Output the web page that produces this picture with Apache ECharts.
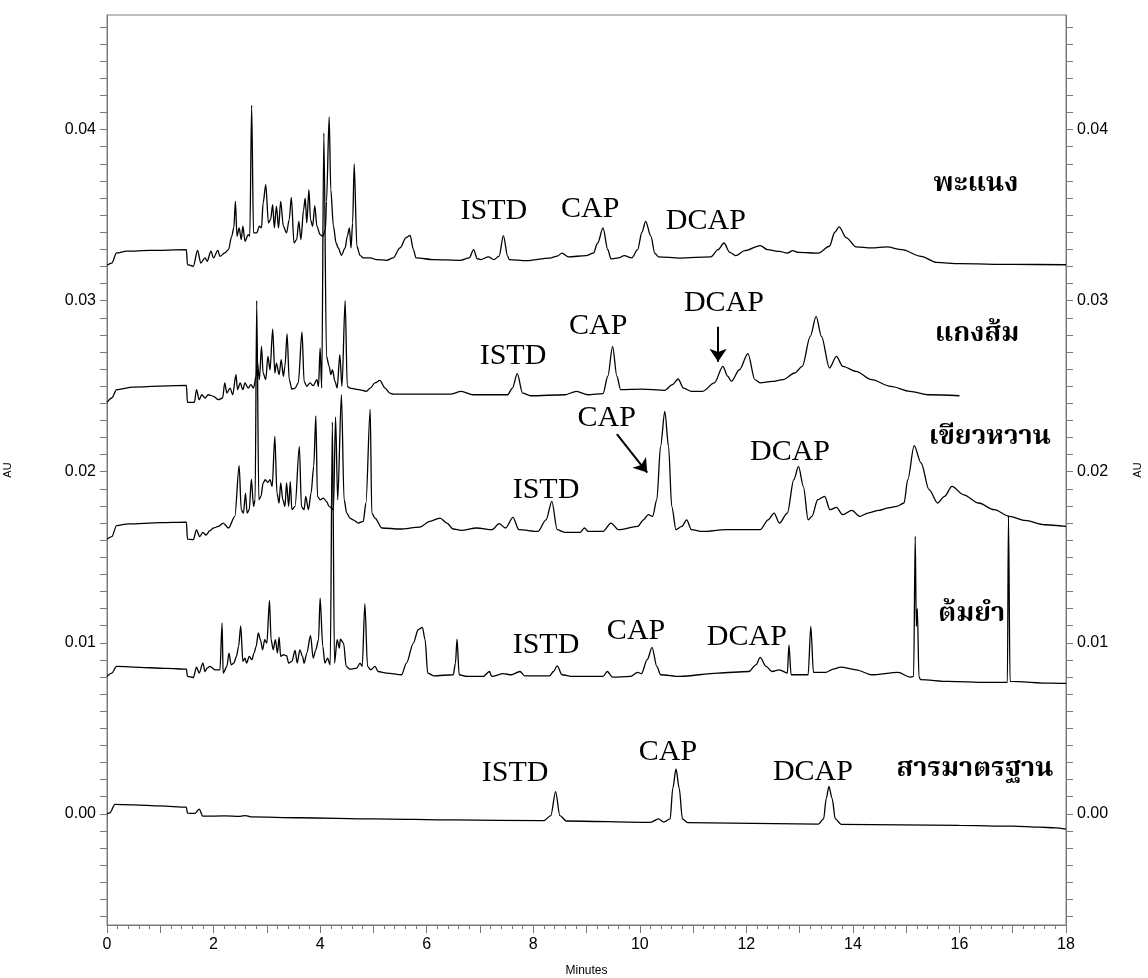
<!DOCTYPE html>
<html>
<head>
<meta charset="utf-8">
<script src="https://cdn.jsdelivr.net/npm/echarts@6/dist/echarts.min.js"></script>
<style>
  html, body { margin: 0; padding: 0; background: #ffffff; }
  #chart { width: 1148px; height: 978px; }
</style>
</head>
<body>
<div id="chart"></div>
<script>
// Chromatograms (retention time in minutes, absorbance in AU), one array per sample
const tracePhanaeng = [
  [0.00,0.03207],[0.09,0.03220],[0.18,0.03279],[0.37,0.03289],[0.81,0.03294],[1.49,0.03298],[1.51,0.03211],[1.62,0.03201],
  [1.70,0.03294],[1.76,0.03220],[1.84,0.03250],[1.88,0.03230],[1.95,0.03289],[2.00,0.03250],[2.08,0.03294],[2.12,0.03259],
  [2.21,0.03279],[2.28,0.03298],[2.34,0.03376],[2.38,0.03425],[2.41,0.03581],[2.44,0.03376],[2.48,0.03425],[2.52,0.03357],
  [2.55,0.03435],[2.59,0.03347],[2.65,0.03386],[2.68,0.03376],[2.715,0.04142],[2.75,0.03396],[2.81,0.03396],[2.86,0.03435],
  [2.90,0.03425],[2.93,0.03571],[2.98,0.03678],[3.03,0.03454],[3.07,0.03474],[3.11,0.03561],[3.14,0.03425],[3.18,0.03552],
  [3.22,0.03425],[3.26,0.03581],[3.31,0.03435],[3.37,0.03396],[3.42,0.03474],[3.46,0.03604],[3.51,0.03337],[3.56,0.03357],
  [3.60,0.03464],[3.64,0.03357],[3.69,0.03532],[3.72,0.03600],[3.75,0.03454],[3.79,0.03649],[3.82,0.03474],[3.86,0.03435],
  [3.90,0.03556],[3.94,0.03435],[4.00,0.03386],[4.05,0.03376],[4.10,0.03415],[4.12,0.03581],[4.17,0.04074],[4.20,0.03649],
  [4.25,0.03435],[4.30,0.03337],[4.34,0.03308],[4.40,0.03265],[4.47,0.03308],[4.51,0.03376],[4.55,0.03425],[4.58,0.03308],
  [4.61,0.03454],[4.64,0.03799],[4.69,0.03318],[4.75,0.03265],[4.81,0.03250],[4.94,0.03250],[5.06,0.03240],[5.25,0.03236],
  [5.37,0.03250],[5.50,0.03308],[5.61,0.03367],[5.69,0.03382],[5.75,0.03300],[5.80,0.03250],[6.13,0.03240],[6.63,0.03236],
  [6.80,0.03250],[6.88,0.03298],[6.95,0.03245],[7.01,0.03240],[7.16,0.03256],[7.26,0.03240],[7.36,0.03260],[7.44,0.03380],
  [7.52,0.03260],[7.55,0.03240],[7.87,0.03234],[8.31,0.03249],[8.45,0.03260],[8.54,0.03278],[8.66,0.03256],[8.99,0.03263],
  [9.13,0.03278],[9.21,0.03337],[9.31,0.03425],[9.40,0.03298],[9.46,0.03244],[9.60,0.03250],[9.71,0.03263],[9.85,0.03250],
  [9.96,0.03298],[10.04,0.03400],[10.11,0.03464],[10.21,0.03376],[10.28,0.03278],[10.35,0.03256],[10.75,0.03249],[11.33,0.03256],
  [11.47,0.03298],[11.58,0.03337],[11.69,0.03282],[11.80,0.03263],[11.97,0.03292],[12.26,0.03322],[12.40,0.03298],[12.62,0.03288],
  [12.77,0.03278],[12.87,0.03292],[12.98,0.03282],[13.35,0.03278],[13.56,0.03318],[13.66,0.03400],[13.74,0.03431],[13.88,0.03367],
  [14.06,0.03314],[14.35,0.03308],[14.64,0.03314],[14.92,0.03298],[15.28,0.03259],[15.57,0.03224],[16.00,0.03216],[17.00,0.03212],
  [18.00,0.03210]
];

const traceKaengSom = [
  [0.00,0.02405],[0.09,0.02431],[0.18,0.02480],[0.49,0.02495],[1.49,0.02505],[1.51,0.02405],[1.64,0.02405],[1.68,0.02480],
  [1.73,0.02421],[1.78,0.02450],[1.84,0.02431],[1.90,0.02450],[2.00,0.02441],[2.09,0.02421],[2.17,0.02431],[2.21,0.02519],
  [2.25,0.02460],[2.31,0.02489],[2.36,0.02450],[2.42,0.02567],[2.45,0.02480],[2.50,0.02519],[2.55,0.02480],[2.59,0.02519],
  [2.65,0.02489],[2.70,0.02509],[2.75,0.02489],[2.80,0.02558],[2.82,0.02645],[2.86,0.02538],[2.90,0.02733],[2.93,0.02577],
  [2.98,0.02538],[3.02,0.02674],[3.06,0.02596],[3.11,0.02834],[3.15,0.02577],[3.18,0.02635],[3.23,0.02567],[3.27,0.02655],
  [3.31,0.02558],[3.34,0.02616],[3.38,0.02805],[3.42,0.02538],[3.47,0.02483],[3.53,0.02489],[3.59,0.02519],[3.66,0.02817],
  [3.70,0.02528],[3.75,0.02499],[3.81,0.02519],[3.87,0.02503],[3.94,0.02538],[3.97,0.02499],[4.00,0.02723],[4.03,0.02489],
  [4.07,0.03980],[4.12,0.02674],[4.17,0.02616],[4.20,0.02567],[4.23,0.02596],[4.28,0.02528],[4.32,0.02489],[4.37,0.02684],
  [4.41,0.02499],[4.47,0.03000],[4.51,0.02499],[4.56,0.02489],[4.72,0.02480],[4.87,0.02470],[4.94,0.02489],[5.03,0.02519],
  [5.12,0.02534],[5.22,0.02489],[5.31,0.02460],[5.37,0.02454],[6.44,0.02453],[6.65,0.02470],[6.87,0.02450],[7.52,0.02450],
  [7.61,0.02489],[7.70,0.02573],[7.80,0.02460],[7.95,0.02444],[8.60,0.02450],[8.81,0.02470],[9.03,0.02450],[9.31,0.02456],
  [9.40,0.02558],[9.49,0.02733],[9.57,0.02558],[9.64,0.02480],[10.03,0.02483],[10.47,0.02476],[10.61,0.02509],[10.72,0.02542],
  [10.82,0.02489],[10.97,0.02470],[11.18,0.02470],[11.40,0.02519],[11.56,0.02616],[11.65,0.02558],[11.72,0.02528],[11.87,0.02596],
  [12.03,0.02690],[12.16,0.02538],[12.26,0.02519],[12.48,0.02528],[12.69,0.02538],[12.91,0.02577],[13.05,0.02616],[13.20,0.02791],
  [13.31,0.02908],[13.41,0.02791],[13.56,0.02606],[13.69,0.02674],[13.81,0.02616],[14.06,0.02587],[14.35,0.02538],[14.71,0.02499],
  [15.07,0.02470],[15.43,0.02450],[16.00,0.02444]
];

const traceKhiaoWan = [
  [0.00,0.01606],[0.09,0.01620],[0.18,0.01685],[0.40,0.01695],[1.00,0.01702],[1.49,0.01705],[1.51,0.01606],[1.62,0.01603],
  [1.68,0.01660],[1.74,0.01620],[1.80,0.01645],[1.86,0.01630],[1.93,0.01655],[2.00,0.01671],[2.09,0.01680],[2.18,0.01700],
  [2.28,0.01671],[2.40,0.01739],[2.48,0.02035],[2.52,0.01778],[2.56,0.01758],[2.60,0.01875],[2.63,0.01758],[2.67,0.01778],
  [2.71,0.01957],[2.75,0.01797],[2.78,0.01836],[2.81,0.03000],[2.85,0.01836],[2.89,0.01856],[2.93,0.01934],[2.97,0.01953],
  [3.02,0.01938],[3.06,0.01953],[3.10,0.01914],[3.15,0.02207],[3.19,0.01875],[3.23,0.01817],[3.26,0.01934],[3.30,0.01836],
  [3.34,0.01797],[3.37,0.01934],[3.41,0.01797],[3.44,0.01943],[3.47,0.01778],[3.53,0.01797],[3.61,0.02148],[3.65,0.01797],
  [3.70,0.01778],[3.73,0.01856],[3.78,0.01778],[3.83,0.01875],[3.88,0.02031],[3.92,0.02327],[3.95,0.01856],[4.00,0.01836],
  [4.06,0.01846],[4.12,0.01826],[4.17,0.01797],[4.25,0.01778],[4.29,0.02320],[4.33,0.01836],[4.40,0.02450],[4.45,0.01836],
  [4.50,0.01758],[4.56,0.01729],[4.62,0.01719],[4.72,0.01700],[4.81,0.01710],[4.86,0.01817],[4.94,0.02366],[4.97,0.01758],
  [5.03,0.01729],[5.16,0.01671],[5.50,0.01665],[5.87,0.01676],[6.06,0.01710],[6.25,0.01729],[6.38,0.01700],[6.50,0.01665],
  [6.65,0.01657],[6.94,0.01671],[7.23,0.01661],[7.36,0.01696],[7.48,0.01671],[7.62,0.01733],[7.73,0.01661],[8.09,0.01651],
  [8.24,0.01719],[8.35,0.01827],[8.45,0.01661],[8.60,0.01645],[8.88,0.01645],[8.96,0.01671],[9.03,0.01651],[9.31,0.01651],
  [9.46,0.01700],[9.60,0.01661],[9.96,0.01680],[10.07,0.01719],[10.16,0.01749],[10.24,0.01739],[10.32,0.01836],[10.39,0.02148],
  [10.47,0.02353],[10.54,0.02148],[10.60,0.01797],[10.68,0.01661],[10.79,0.01680],[10.88,0.01719],[10.97,0.01661],[11.18,0.01651],
  [11.62,0.01661],[12.26,0.01661],[12.41,0.01719],[12.52,0.01758],[12.62,0.01700],[12.77,0.01758],[12.89,0.01953],[12.98,0.02031],
  [13.07,0.01914],[13.16,0.01719],[13.23,0.01739],[13.34,0.01836],[13.47,0.01856],[13.57,0.01778],[13.69,0.01791],[13.81,0.01749],
  [13.98,0.01774],[14.13,0.01739],[14.28,0.01758],[14.49,0.01774],[14.67,0.01788],[14.82,0.01797],[14.96,0.01817],[15.03,0.01953],
  [15.15,0.02152],[15.28,0.02051],[15.43,0.01895],[15.59,0.01817],[15.72,0.01856],[15.86,0.01914],[16.08,0.01865],[16.36,0.01817],
  [16.65,0.01778],[16.94,0.01739],[17.23,0.01715],[17.60,0.01690],[18.00,0.01680]
];

const traceTomYam = [
  [0.00,0.00803],[0.09,0.00823],[0.18,0.00862],[0.49,0.00858],[1.12,0.00850],[1.49,0.00846],[1.51,0.00803],[1.62,0.00797],
  [1.68,0.00858],[1.73,0.00823],[1.80,0.00881],[1.84,0.00832],[1.88,0.00852],[1.93,0.00862],[2.03,0.00842],[2.12,0.00842],
  [2.16,0.01115],[2.18,0.00823],[2.25,0.00862],[2.29,0.00940],[2.33,0.00871],[2.38,0.00881],[2.43,0.00920],[2.47,0.00979],
  [2.51,0.01099],[2.55,0.00891],[2.59,0.00910],[2.62,0.00881],[2.67,0.00920],[2.72,0.00901],[2.76,0.00940],[2.80,0.00979],
  [2.84,0.01057],[2.88,0.01018],[2.92,0.00959],[2.96,0.01018],[3.00,0.00998],[3.05,0.01246],[3.08,0.01018],[3.12,0.00959],
  [3.16,0.01018],[3.20,0.00940],[3.23,0.01033],[3.26,0.00920],[3.31,0.00930],[3.37,0.00924],[3.41,0.00881],[3.47,0.00891],
  [3.53,0.00955],[3.57,0.00881],[3.62,0.00959],[3.67,0.00920],[3.70,0.00881],[3.75,0.00940],[3.82,0.01041],[3.87,0.00910],
  [3.92,0.00959],[3.97,0.01018],[4.00,0.01261],[4.05,0.00979],[4.09,0.00881],[4.14,0.00910],[4.19,0.00871],[4.23,0.02290],
  [4.27,0.00881],[4.32,0.01018],[4.36,0.00969],[4.38,0.01021],[4.44,0.00998],[4.49,0.00862],[4.56,0.00846],[4.69,0.00852],
  [4.75,0.00881],[4.79,0.00862],[4.84,0.01228],[4.89,0.00862],[4.95,0.00842],[5.03,0.00862],[5.09,0.00832],[5.25,0.00823],
  [5.53,0.00813],[5.62,0.00881],[5.75,0.00998],[5.84,0.01076],[5.92,0.01090],[5.97,0.01018],[6.02,0.00823],[6.13,0.00807],
  [6.50,0.00813],[6.54,0.00881],[6.57,0.01021],[6.61,0.00813],[6.75,0.00803],[7.06,0.00803],[7.18,0.00832],[7.22,0.00803],
  [7.44,0.00819],[7.59,0.00813],[7.75,0.00832],[7.84,0.00807],[8.31,0.00807],[8.38,0.00832],[8.45,0.00865],[8.54,0.00813],
  [8.74,0.00803],[9.31,0.00803],[9.39,0.00832],[9.49,0.00799],[9.82,0.00803],[9.96,0.00827],[10.03,0.00819],[10.14,0.00901],
  [10.23,0.00973],[10.32,0.00862],[10.39,0.00813],[10.75,0.00803],[11.47,0.00823],[12.05,0.00832],[12.18,0.00871],[12.26,0.00914],
  [12.37,0.00862],[12.48,0.00832],[12.62,0.00842],[12.77,0.00823],[12.80,0.00988],[12.84,0.00813],[13.16,0.00813],[13.21,0.01096],
  [13.26,0.00827],[13.49,0.00827],[13.63,0.00846],[13.77,0.00858],[14.06,0.00842],[14.35,0.00813],[14.85,0.00827],[15.07,0.00799],
  [15.14,0.00803],[15.17,0.01622],[15.19,0.01096],[15.21,0.01200],[15.24,0.00800],[15.27,0.00784],[15.79,0.00774],[16.51,0.00768],
  [16.90,0.00768],[16.92,0.01743],[16.95,0.00774],[17.71,0.00764],[18.00,0.00762]
];

const traceStandard = [
  [0.00,0.00000],[0.05,0.00005],[0.15,0.00055],[0.50,0.00052],[1.00,0.00046],[1.49,0.00039],[1.51,0.00004],[1.65,0.00002],
  [1.73,0.00027],[1.80,-0.00014],[2.20,-0.00012],[2.50,-0.00015],[2.60,-0.00010],[2.70,-0.00018],[3.62,-0.00023],[5.00,-0.00030],
  [6.50,-0.00036],[8.20,-0.00040],[8.33,-0.00010],[8.42,0.00130],[8.50,-0.00010],[8.62,-0.00042],[10.20,-0.00050],[10.35,-0.00030],
  [10.45,-0.00048],[10.57,-0.00030],[10.62,0.00150],[10.68,0.00262],[10.74,0.00150],[10.80,-0.00030],[10.90,-0.00052],[13.35,-0.00060],
  [13.45,-0.00030],[13.50,0.00090],[13.55,0.00160],[13.61,0.00090],[13.67,-0.00030],[13.78,-0.00062],[16.00,-0.00068],[17.00,-0.00072],
  [17.50,-0.00078],[17.80,-0.00082],[18.00,-0.00090]
];

// Peak labels placed at [minutes, AU]
const peakLabels = [
  [7.26, 0.03526, 'ISTD'], [9.07, 0.03538, 'CAP'], [11.24, 0.03463, 'DCAP'],
  [7.62, 0.02673, 'ISTD'], [9.22, 0.02854, 'CAP'], [11.58, 0.02988, 'DCAP'],
  [8.24, 0.01895, 'ISTD'], [9.38, 0.02316, 'CAP'], [12.82, 0.02117, 'DCAP'],
  [8.24, 0.00988, 'ISTD'], [9.93, 0.01070, 'CAP'], [12.01, 0.01035, 'DCAP'],
  [7.66, 0.00240, 'ISTD'], [10.53, 0.00363, 'CAP'], [13.25, 0.00246, 'DCAP']
];

// Sample names placed at [minutes, AU]
const sampleNames = [
  [16.31, 0.03667, 'พะแนง'],
  [16.33, 0.02789, 'แกงส้ม'],
  [16.57, 0.02187, 'เขียวหวาน'],
  [16.23, 0.01152, 'ต้มยำ'],
  [16.29, 0.00246, 'สารมาตรฐาน']
];

// Pointer arrows [[from], [to]] in [minutes, AU]
const arrows = [
  [[11.47, 0.02848], [11.47, 0.02643]],
  [[9.57, 0.02220], [10.14, 0.01995]]
];

const yLabelValues = [0, 0.01, 0.02, 0.03, 0.04];
const xRange = [0, 18];
const yRange = [-0.0065, 0.0467];

const yTickValues = [];
for (let i = -6; i <= 46; i++) yTickValues.push(i / 1000);
const xTickValues = [];
for (let i = xRange[0]; i <= xRange[1]; i++) xTickValues.push(i);

const axisGray = '#7a7a7a';
const sansFont = '"Liberation Sans", Arial, sans-serif';
const serifFont = '"Liberation Serif", "Times New Roman", serif';
const thaiFont = '"Noto Serif Thai", "Noto Sans Thai Looped", "Noto Sans Thai", Garuda, Loma, Norasi, sans-serif';

function yAxisDef(side) {
  return {
    type: 'value',
    position: side,
    min: yRange[0],
    max: yRange[1],
    name: 'AU',
    nameLocation: 'middle',
    nameGap: side === 'left' ? 94 : 66,
    nameTextStyle: { fontSize: 11, fontFamily: sansFont, color: '#000' },
    axisLine: { show: true, onZero: false, lineStyle: { color: axisGray, width: 1 } },
    axisTick: { show: true, inside: false, length: 7, customValues: yTickValues, lineStyle: { color: axisGray } },
    axisLabel: {
      customValues: yLabelValues,
      formatter: v => v.toFixed(2),
      color: '#000', fontSize: 16, fontFamily: sansFont, margin: 11
    },
    splitLine: { show: false }
  };
}

const lineStyle = { color: '#000', width: 1.3 };
function traceSeries(data) {
  return {
    type: 'line', data: data, showSymbol: false, symbol: 'none',
    smooth: 0.3, smoothMonotone: 'x',
    lineStyle: lineStyle, silent: true, clip: true
  };
}

function textSeries(items, labelStyle) {
  return {
    type: 'scatter', symbolSize: 0, silent: true,
    itemStyle: { opacity: 1 },
    data: items.map(p => ({ value: [p[0], p[1]], name: p[2] })),
    label: Object.assign({ show: true, position: 'inside', formatter: '{b}', color: '#000', opacity: 1 }, labelStyle)
  };
}

const chart = echarts.init(document.getElementById('chart'), null, { renderer: 'canvas' });
chart.setOption({
  animation: false,
  backgroundColor: '#ffffff',
  grid: {
    left: 107, right: 82, top: 15, bottom: 53,
    outerBoundsMode: 'none', containLabel: false,
    show: true, borderColor: axisGray, borderWidth: 1, backgroundColor: 'transparent'
  },
  xAxis: {
    type: 'value',
    min: xRange[0], max: xRange[1], interval: 2,
    name: 'Minutes', nameLocation: 'middle', nameGap: 40,
    nameTextStyle: { fontSize: 12, fontFamily: sansFont, color: '#000' },
    axisLine: { show: true, onZero: false, lineStyle: { color: axisGray, width: 1 } },
    axisTick: { show: true, inside: false, length: 8, customValues: xTickValues, lineStyle: { color: axisGray } },
    minorTick: { show: true, splitNumber: 10, length: 4, lineStyle: { color: axisGray } },
    axisLabel: { color: '#000', fontSize: 16, fontFamily: sansFont, margin: 12 },
    splitLine: { show: false }
  },
  yAxis: [yAxisDef('left'), yAxisDef('right')],
  series: [
    traceSeries(tracePhanaeng),
    traceSeries(traceKaengSom),
    traceSeries(traceKhiaoWan),
    traceSeries(traceTomYam),
    traceSeries(traceStandard),
    textSeries(peakLabels, { fontSize: 30, fontFamily: serifFont }),
    textSeries(sampleNames, { fontSize: 27, fontWeight: 'bold', fontFamily: thaiFont }),
    {
      type: 'lines', coordinateSystem: 'cartesian2d', silent: true,
      data: arrows.map(c => ({ coords: c })),
      symbol: ['none', 'arrow'], symbolSize: 13,
      lineStyle: { color: '#000', width: 2, opacity: 1, curveness: 0 },
      effect: { show: false }
    }
  ]
});
</script>
</body>
</html>
